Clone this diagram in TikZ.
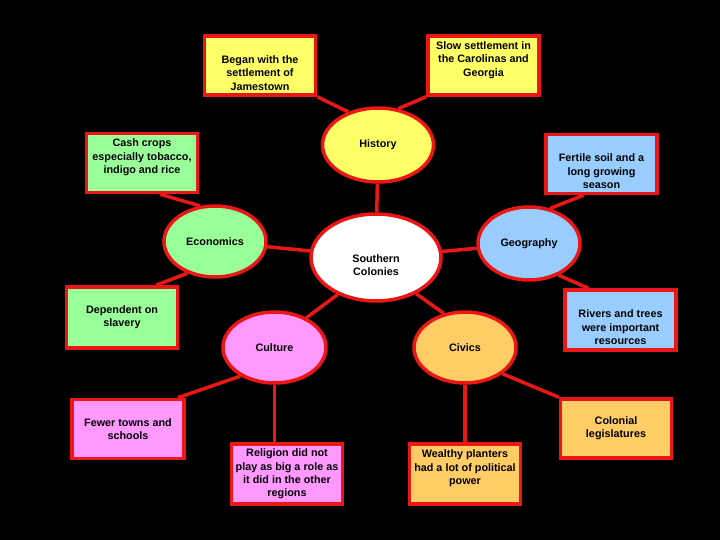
\documentclass[tikz,border=0pt]{standalone}
\usepackage{fontspec}
\setmainfont{Liberation Sans}
\usepackage{xcolor}
\usetikzlibrary{shapes.geometric}

\definecolor{rimred}{RGB}{235,22,22}
\definecolor{histyellow}{RGB}{255,255,102}
\definecolor{econgreen}{RGB}{153,255,153}
\definecolor{geoblue}{RGB}{153,204,255}
\definecolor{cultpink}{RGB}{255,153,255}
\definecolor{civorange}{RGB}{255,204,102}

\begin{document}
\begin{tikzpicture}[x=1pt, y=-1pt,
  topic/.style={ellipse, draw=rimred, line width=3.5pt, inner sep=0pt, align=center,
    font=\bfseries\fontsize{10.8}{13.3}\selectfont},
  fact/.style={rectangle, draw=rimred, line width=3.5pt, inner sep=0pt, align=center,
    minimum width=111pt, minimum height=59pt, font=\bfseries\fontsize{10.8}{13.3}\selectfont},
  link/.style={draw=rimred, line width=3.5pt}]
  % Background
  \fill[black] (0,0) rectangle (720,540);

  % Centre
  \node[topic, fill=white, minimum width=130pt, minimum height=87pt] (sc) at (376,257.5) {\strut\\Southern\\Colonies};

  % History
  \node[topic, fill=histyellow, minimum width=111pt, minimum height=74pt] (hist) at (378,145) {History};
  \node[fact, fill=histyellow] (jam) at (260,65.5) {\strut\\Began with the\\settlement of\\Jamestown};
  \node[fact, fill=histyellow] (carol) at (483.5,65.5) {Slow settlement in\\the Carolinas and\\Georgia\\\mbox{}};

  % Economics
  \node[topic, fill=econgreen, minimum width=102pt, minimum height=71pt] (econ) at (215,241.5) {Economics};
  \node[fact, fill=econgreen] (cash) at (142,163) {Cash crops\\especially tobacco,\\indigo and rice\\\mbox{}};
  \node[fact, fill=econgreen, minimum height=61pt] (dep) at (122,317.5) {Dependent on\\slavery};

  % Geography
  \node[topic, fill=geoblue, minimum width=102pt, minimum height=73pt] (geo) at (529,243.5) {Geography};
  \node[fact, fill=geoblue] (fert) at (601.5,164) {\strut\\Fertile soil and a\\long growing\\season};
  \node[fact, fill=geoblue, minimum height=60pt] (riv) at (620.5,320) {\strut\\Rivers and trees\\were important\\resources};

  % Culture
  \node[topic, fill=cultpink, minimum width=103pt, minimum height=71pt] (cult) at (274.5,347.5) {Culture};
  \node[fact, fill=cultpink, minimum width=112pt] (few) at (128,429) {Fewer towns and\\schools};
  \node[fact, fill=cultpink, minimum height=60pt] (rel) at (287,474) {Religion did not\\play as big a role as\\it did in the other\\regions};

  % Civics
  \node[topic, fill=civorange, minimum width=102pt, minimum height=71pt] (civ) at (465,347.5) {Civics};
  \node[fact, fill=civorange, minimum height=60pt] (wea) at (465,474) {Wealthy planters\\had a lot of political\\power\\\mbox{}};
  \node[fact, fill=civorange] (col) at (616,428.5) {Colonial\\legislatures};

  % Links
  \draw[link] (hist) -- (sc);
  \draw[link] (econ) -- (sc);
  \draw[link] (sc) -- (geo);
  \draw[link] (sc.224) -- (cult.43);
  \draw[link] (sc.318) -- (civ.122);
  \draw[link] (jam.south east) -- (hist.132);
  \draw[link] (carol.south west) -- (hist.61);
  \draw[link] ([xshift=18pt]cash.south) -- (econ.113);
  \draw[link] (econ.229) -- ([xshift=34pt]dep.north);
  \draw[link] ([xshift=-18pt]fert.south) -- (geo.59);
  \draw[link] (geo.313) -- ([xshift=-32pt]riv.north);
  \draw[link] (cult.220) -- ([xshift=-8pt]few.north east);
  \draw[link] (cult.south) -- (cult.south |- rel.north);
  \draw[link] (civ) -- (wea);
  \draw[link] (civ.325) -- (col.north west);
\end{tikzpicture}
\end{document}
